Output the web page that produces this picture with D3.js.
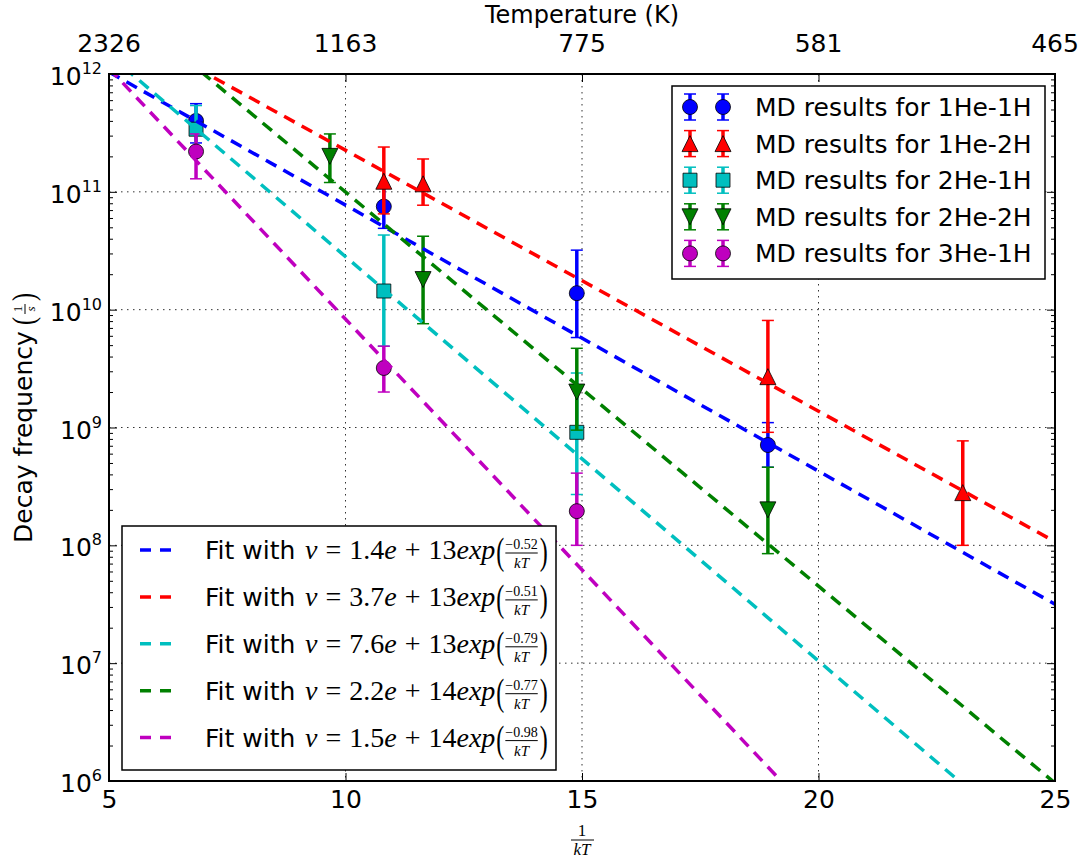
<!DOCTYPE html>
<html lang="en">
<head>
<style>
  body { margin: 0; background: #fff; }
  text { font-family: "DejaVu Sans", sans-serif; fill: #000; }
  .math { font-family: "Liberation Serif", "DejaVu Serif", serif; }
  .it { font-style: italic; }
</style>
</head>
<body>
<svg id="chart" width="1085" height="862"></svg>
<script src="https://d3js.org/d3.v7.min.js"></script>
<script>
// ---- data ----
const seriesNames = ["MD results for 1He-1H", "MD results for 1He-2H", "MD results for 2He-1H",
                     "MD results for 2He-2H", "MD results for 3He-1H"];
const seriesColors = ["#0000ff", "#ff0000", "#00bfbf", "#008000", "#bf00bf"];
const seriesShapes = ["circle", "triUp", "square", "triDown", "circle"];

const x1He1H = [6.84, 10.81, 14.89, 18.93];
const v1He1H = [4.0e11, 7.5e10, 1.38e10, 7.1e8];
const hi1He1H = [5.6e11, 1.1e11, 3.2e10, 1.1e9];
const lo1He1H = [2.6e11, 4.9e10, 5.8e9, 4.6e8];

const x1He2H = [10.81, 11.64, 18.93, 23.05];
const v1He2H = [1.23e11, 1.17e11, 2.7e9, 2.8e8];
const hi1He2H = [2.4e11, 1.9e11, 8.1e9, 7.7e8];
const lo1He2H = [6.5e10, 7.7e10, 9.1e8, 1.0e8];

const x2He1H = [6.84, 10.81, 14.89];
const v2He1H = [3.4e11, 1.44e10, 9.1e8];
const hi2He1H = [5.4e11, 4.3e10, 2.9e9];
const lo2He1H = [2.3e11, 4.9e9, 2.7e8];

const x2He2H = [9.67, 11.64, 14.89, 18.93];
const v2He2H = [2.0e11, 1.8e10, 2.0e9, 2.0e8];
const hi2He2H = [3.1e11, 4.2e10, 4.7e9, 4.6e8];
const lo2He2H = [1.2e11, 7.6e9, 9.5e8, 8.5e7];

const x3He1H = [6.84, 10.81, 14.89];
const v3He1H = [2.2e11, 3.2e9, 1.95e8];
const hi3He1H = [3.1e11, 4.9e9, 4.1e8];
const lo3He1H = [1.29e11, 2.0e9, 1.0e8];

// fits: nu = A * exp(-E / kT), drawn as straight lines between the axis ends
const fitPrefactors = [1.4e13, 3.7e13, 7.6e13, 2.2e14, 1.5e14];
const fitPrefactorLabels = ["1.4e+13", "3.7e+13", "7.6e+13", "2.2e+14", "1.5e+14"];
const fitEnergies = [0.52, 0.51, 0.79, 0.77, 0.98];
const fitRange = [5, 25];

const xTicks = [5, 10, 15, 20, 25];
const yTicks = [1e6, 1e7, 1e8, 1e9, 1e10, 1e11, 1e12];
const tempLabels = ["2326", "1163", "775", "581", "465"];

const series = [
  {x: x1He1H, v: v1He1H, hi: hi1He1H, lo: lo1He1H},
  {x: x1He2H, v: v1He2H, hi: hi1He2H, lo: lo1He2H},
  {x: x2He1H, v: v2He1H, hi: hi2He1H, lo: lo2He1H},
  {x: x2He2H, v: v2He2H, hi: hi2He2H, lo: lo2He2H},
  {x: x3He1H, v: v3He1H, hi: hi3He1H, lo: lo3He1H}
];

// ---- layout ----
const L = 109, R = 1055, T = 74, B = 781;
const svg = d3.select("#chart");
const x = d3.scaleLinear().domain([5, 25]).range([L, R]);
const y = d3.scaleLog().domain([1e6, 1e12]).range([B, T]);

svg.append("defs").append("clipPath").attr("id", "plotclip")
  .append("rect").attr("x", L).attr("y", T).attr("width", R - L).attr("height", B - T);

// grid
let grid = svg.append("g").attr("stroke", "#333").attr("stroke-width", 1).attr("stroke-dasharray", "1.5,4.5");
grid.selectAll(".gx").data(xTicks.slice(1, -1)).join("line")
  .attr("x1", d => x(d)).attr("x2", d => x(d)).attr("y1", T).attr("y2", B);
grid.selectAll(".gy").data(yTicks.slice(1, -1)).join("line")
  .attr("x1", L).attr("x2", R).attr("y1", d => y(d)).attr("y2", d => y(d));

// ticks (inward, on all four sides)
let minorVals = [];
yTicks.slice(0, -1).forEach(d => { for (let k = 2; k <= 9; k++) minorVals.push(d * k); });

function tickAxis(axis, tr) {
  let g = svg.append("g").attr("transform", tr).call(axis);
  g.select(".domain").remove();
  g.selectAll("line").attr("stroke", "#000").attr("stroke-width", 1);
  return g;
}
tickAxis(d3.axisBottom(x).tickValues(xTicks).tickSize(-8).tickPadding(9).tickFormat(d3.format("d")), `translate(0,${B})`)
  .selectAll("text").style("font-size", "25px").style("font-family", "DejaVu Sans").attr("fill", "#000");
tickAxis(d3.axisTop(x).tickValues(xTicks).tickSize(-8).tickFormat(""), `translate(0,${T})`);
tickAxis(d3.axisLeft(y).tickValues(yTicks).tickSize(-8).tickFormat(""), `translate(${L},0)`);
tickAxis(d3.axisRight(y).tickValues(yTicks).tickSize(-8).tickFormat(""), `translate(${R},0)`);
tickAxis(d3.axisLeft(y).tickValues(minorVals).tickSize(-4).tickFormat(""), `translate(${L},0)`);
tickAxis(d3.axisRight(y).tickValues(minorVals).tickSize(-4).tickFormat(""), `translate(${R},0)`);

// y tick labels 10^n
let ylab = svg.append("g").selectAll("text").data(yTicks).join("text")
  .attr("x", 102).attr("y", d => y(d) + 11).attr("text-anchor", "end").style("font-size", "25px");
ylab.append("tspan").text("10");
ylab.append("tspan").attr("dy", -11).style("font-size", "16px").text(d => Math.round(Math.log10(d)));

// top temperature labels
svg.append("g").selectAll("text").data(tempLabels).join("text")
  .attr("x", (d, i) => x(xTicks[i])).attr("y", 52).attr("text-anchor", "middle")
  .style("font-size", "25px").text(d => d);
svg.append("text").attr("x", (L + R) / 2).attr("y", 23).attr("text-anchor", "middle")
  .style("font-size", "24px").text("Temperature (K)");

// x label 1/kT
let xl = svg.append("g");
xl.append("text").attr("class", "math").attr("x", 582).attr("y", 836).attr("text-anchor", "middle")
  .style("font-size", "17px").text("1");
xl.append("line").attr("x1", 571).attr("x2", 594).attr("y1", 840).attr("y2", 840).attr("stroke", "#000").attr("stroke-width", 1);
xl.append("text").attr("class", "math it").attr("x", 582).attr("y", 855).attr("text-anchor", "middle")
  .style("font-size", "17px").text("kT");

// y label
let yl = svg.append("g").attr("transform", "translate(32,427) rotate(-90)");
yl.append("text").attr("x", -116).attr("y", 0).style("font-size", "25px").text("Decay frequency");
yl.append("text").attr("class", "math").attr("transform", "translate(102,2) scale(1,1.35)")
  .style("font-size", "24px").text("(");
yl.append("text").attr("class", "math").attr("x", 118).attr("y", -10).attr("text-anchor", "middle")
  .style("font-size", "13px").text("1");
yl.append("line").attr("x1", 113).attr("x2", 123).attr("y1", -7).attr("y2", -7).attr("stroke", "#000").attr("stroke-width", 1);
yl.append("text").attr("class", "math it").attr("x", 118).attr("y", 3).attr("text-anchor", "middle")
  .style("font-size", "13px").text("s");
yl.append("text").attr("class", "math").attr("transform", "translate(126,2) scale(1,1.35)")
  .style("font-size", "24px").text(")");

// ---- markers ----
function markerPath(shape) {
  if (shape === "circle") return d3.symbol(d3.symbolCircle, Math.PI * 7.5 * 7.5)();
  if (shape === "square") return "M-7,-7L7,-7L7,7L-7,7Z";
  if (shape === "triUp") return "M0,-8L8,8L-8,8Z";
  if (shape === "triDown") return "M0,8L8,-8L-8,-8Z";
}

function errorbar(g, cx, cy, ytop, ybot, color, shape) {
  g.append("line").attr("x1", cx).attr("x2", cx).attr("y1", ytop).attr("y2", ybot)
    .attr("stroke", color).attr("stroke-width", 3.5);
  [ytop, ybot].forEach(yy => g.append("line").attr("x1", cx - 6).attr("x2", cx + 6)
    .attr("y1", yy).attr("y2", yy).attr("stroke", color).attr("stroke-width", 1.5));
  g.append("path").attr("d", markerPath(shape)).attr("transform", `translate(${cx},${cy})`)
    .attr("fill", color).attr("stroke", "#000").attr("stroke-width", 0.8);
}

let pts = svg.append("g");
series.forEach((s, i) => {
  let g = pts.append("g");
  s.x.forEach((xv, j) => errorbar(g, x(xv), y(s.v[j]), y(s.hi[j]), y(s.lo[j]), seriesColors[i], seriesShapes[i]));
});

// ---- fit lines ----
let line = d3.line().x(d => x(d[0])).y(d => y(d[1]));
let fits = svg.append("g").attr("clip-path", "url(#plotclip)");
fitPrefactors.forEach((A, i) => {
  let ends = fitRange.map(xv => [xv, A * Math.exp(-fitEnergies[i] * xv)]);
  fits.append("path").attr("d", line(ends)).attr("fill", "none")
    .attr("stroke", seriesColors[i]).attr("stroke-width", 3.5).attr("stroke-dasharray", "12,8");
});

// frame
svg.append("rect").attr("x", L).attr("y", T).attr("width", R - L).attr("height", B - T)
  .attr("fill", "none").attr("stroke", "#000").attr("stroke-width", 2);

// ---- legend 1: MD results ----
let lg1 = svg.append("g");
lg1.append("rect").attr("x", 672).attr("y", 86).attr("width", 373).attr("height", 193)
  .attr("fill", "#fff").attr("stroke", "#000").attr("stroke-width", 1.5);
seriesNames.forEach((name, i) => {
  let cy = 107 + i * 36.6;
  [690, 723].forEach(cx => errorbar(lg1, cx, cy, cy - 13, cy + 13, seriesColors[i], seriesShapes[i]));
  lg1.append("text").attr("x", 755).attr("y", cy + 9).style("font-size", "25px").text(name);
});

// ---- legend 2: fits ----
let lg2 = svg.append("g");
lg2.append("rect").attr("x", 122).attr("y", 526).attr("width", 434).attr("height", 244)
  .attr("fill", "#fff").attr("stroke", "#000").attr("stroke-width", 1.5);
fitPrefactors.forEach((A, i) => {
  let cy = 550 + i * 46.9;
  lg2.append("line").attr("x1", 140).attr("x2", 171).attr("y1", cy).attr("y2", cy)
    .attr("stroke", seriesColors[i]).attr("stroke-width", 3.5).attr("stroke-dasharray", "11,9");
  lg2.append("text").attr("x", 205).attr("y", cy + 9).style("font-size", "25px").text("Fit with");
  let parts = fitPrefactorLabels[i].split(/e\+/);
  let t = lg2.append("text").attr("class", "math").attr("x", 305).attr("y", cy + 9).style("font-size", "28px");
  t.append("tspan").attr("class", "it").text("ν");
  t.append("tspan").attr("dx", 8).text("=");
  t.append("tspan").attr("dx", 8).text(parts[0]);
  t.append("tspan").attr("class", "it").text("e");
  t.append("tspan").attr("dx", 8).text("+");
  t.append("tspan").attr("dx", 8).text(parts[1]);
  t.append("tspan").attr("class", "it").text("exp");
  let bb = t.node().getBBox();
  let px = bb.x + bb.width + 1;
  lg2.append("text").attr("class", "math").attr("transform", `translate(${px},${cy + 14}) scale(1,1.6)`)
    .style("font-size", "24px").text("(");
  let fx = px + 9;
  let num = lg2.append("text").attr("class", "math").attr("x", fx).attr("y", cy - 1)
    .style("font-size", "14px").text("−" + fitEnergies[i].toFixed(2));
  let fw = num.node().getBBox().width;
  lg2.append("line").attr("x1", fx).attr("x2", fx + fw).attr("y1", cy + 3).attr("y2", cy + 3)
    .attr("stroke", "#000").attr("stroke-width", 1);
  lg2.append("text").attr("class", "math it").attr("x", fx + fw / 2).attr("y", cy + 18).attr("text-anchor", "middle")
    .style("font-size", "15px").text("kT");
  lg2.append("text").attr("class", "math").attr("transform", `translate(${fx + fw + 2},${cy + 14}) scale(1,1.6)`)
    .style("font-size", "24px").text(")");
});
</script>
</body>
</html>
